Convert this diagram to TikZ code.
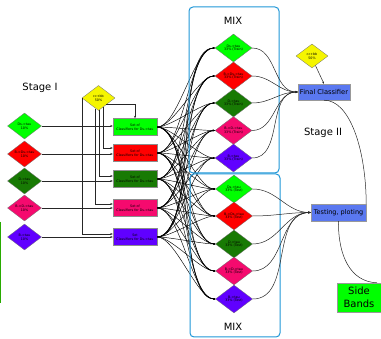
\documentclass[tikz,border=0pt]{standalone}
\usepackage{fontspec}
\setmainfont{DejaVu Sans}
\usetikzlibrary{shapes.geometric,arrows.meta}
\definecolor{cLG}{RGB}{0,255,0}
\definecolor{cRD}{RGB}{255,0,0}
\definecolor{cDG}{RGB}{24,122,4}
\definecolor{cPK}{RGB}{245,10,110}
\definecolor{cPU}{RGB}{96,0,255}
\definecolor{cYE}{RGB}{245,245,0}
\definecolor{cBL}{RGB}{90,120,240}
\definecolor{cMX}{RGB}{30,150,215}
\definecolor{cSide}{RGB}{40,170,0}
\newcommand\tinyf{\fontsize{3.3}{3.8}\selectfont}
\begin{document}
\begin{tikzpicture}[x=1pt,y=-1pt,
  dia/.style={diamond, draw=black!55, line width=0.3pt, inner sep=0pt, aspect=1.3, font=\tinyf, align=center},
  ldia/.style={dia, minimum width=34pt, minimum height=26pt},
  mdia/.style={dia, minimum width=37pt, minimum height=28pt},
  lbox/.style={rectangle, draw=black!45, line width=0.4pt, minimum width=44pt, minimum height=17pt, inner sep=0pt, align=center, font=\tinyf},
  bbox/.style={rectangle, draw=black!40, line width=0.4pt, fill=cBL, inner sep=0.5pt},
  mixbox/.style={draw=cMX, line width=1pt, rounded corners=4pt},
  arr/.style={-{Stealth[length=2.5pt,width=2pt]}, line width=0.5pt, black!85},
  fan/.style={-{Stealth[length=2pt,width=1.6pt]}, line width=0.45pt, black},
  conn/.style={line width=0.5pt, black!85},
  big/.style={font=\fontsize{10}{12.5}\selectfont, align=center}
]
\useasboundingbox (0,0) rectangle (381,339);

% stage labels
\node[big] (st1) at (40,88) {Stage I};
\node[big] (st2) at (323,133) {Stage II};

% left diamonds
\node[ldia, fill=cLG] (L1) at (24.5,126) {Ds->tau\\10\%};
\node[ldia, fill=cRD] (L2) at (24.5,154) {B->Ds->tau\\10\%};
\node[ldia, fill=cDG] (L3) at (24.5,181) {D->tau\\10\%};
\node[ldia, fill=cPK] (L4) at (24.5,208) {B->D->tau\\10\%};
\node[ldia, fill=cPU] (L5) at (24.5,237) {B->tau\\10\%};

% yellow
\node[dia, fill=cYE, minimum width=33pt, minimum height=25pt] (Y) at (98.5,98) {cc+bb\\50\%};

% classifier boxes
\node[lbox, fill=cLG] (C1) at (135,127) {Set of\\Classifiers for Ds->tau};
\node[lbox, fill=cRD] (C2) at (135,153) {Set of\\Classifiers for Ds->tau};
\node[lbox, fill=cDG] (C3) at (135,179) {Set of\\Classifiers for Ds->tau};
\node[lbox, fill=cPK] (C4) at (135,208) {Set of\\Classifiers for Ds->tau};
\node[lbox, fill=cPU] (C5) at (135,237) {Set\\Classifiers for Ds->tau};

% left diamonds -> boxes
\foreach \i in {1,...,5} {
  \draw[arr] (L\i.east) -- (L\i.east -| C\i.west);
}
% yellow -> boxes
\draw[arr] (Y.-40) -| (C1.north);
\draw[arr] (Y.-60) |- ([yshift=5pt]C2.west);
\draw[arr] (Y.-85) |- ([yshift=3pt]C3.west);
\draw[arr] (Y.-105) |- ([yshift=4pt]C4.west);
\draw[arr] (Y.west) |- ([yshift=3pt]C5.west);

% MIX train diamonds
\node[mdia, fill=cLG] (T1) at (233.5,48) {Ds->tau\\33\% (Train)};
\node[mdia, fill=cRD] (T2) at (233.5,76) {B->Ds->tau\\33\% (Train)};
\node[mdia, fill=cDG] (T3) at (233.5,103) {D->tau\\33\% (Train)};
\node[mdia, fill=cPK] (T4) at (233.5,130.5) {B->D->tau\\33\% (Train)};
\node[mdia, fill=cPU] (T5) at (233.5,158) {B->tau\\33\% (Train)};
% MIX test diamonds
\node[mdia, fill=cLG] (S1) at (234,189) {Ds->tau\\33\% (Test)};
\node[mdia, fill=cRD] (S2) at (234,216) {B->Ds->tau\\33\% (Test)};
\node[mdia, fill=cDG] (S3) at (234,244) {D->tau\\33\% (Test)};
\node[mdia, fill=cPK] (S4) at (234,271) {B->D->tau\\33\% (Test)};
\node[mdia, fill=cPU] (S5) at (234,299) {B->tau\\33\% (Test)};

% fan from boxes to all MIX diamonds
\foreach \i in {1,...,5} {
  \foreach \j in {1,...,5} {
    \draw[fan] (C\i.east) to[out=0,in=180,looseness=0.55] (T\j.west);
    \draw[fan] (C\i.east) to[out=0,in=180,looseness=0.55] (S\j.west);
  }
}

% MIX boxes (on top of the fan)
\draw[mixbox] (189,7) rectangle (279,173);
\draw[mixbox] (190,174) rectangle (280,337);
\node[big] (mixt) at (233,21) {MIX};
\node[big] (mixb) at (233,327) {MIX};

% stage II
\node[dia, fill=cYE, minimum width=32pt, minimum height=24pt] (Yb) at (312,56) {cc+bb\\50\%};
\node[bbox, minimum width=52pt, minimum height=16pt, font=\fontsize{6.7}{8}\selectfont] (F) at (324,92) {Final Classifier};
\node[bbox, minimum width=55pt, minimum height=17pt, font=\fontsize{6.5}{8}\selectfont] (P) at (338.5,212.5) {Testing, ploting};
\node[rectangle, draw=black!40, line width=0.4pt, fill=cLG, minimum width=44pt, minimum height=29pt, inner sep=0pt, big, font=\fontsize{10}{12.5}\selectfont] (B) at (359,297.5) {Side\\Bands};

\draw[arr] (Yb.-70) -- (F.north);
\foreach \j in {1,...,5} {
  \draw[arr] (T\j.east) to[out=0,in=180] (F.west);
  \draw[arr] (S\j.east) to[out=0,in=180] (P.west);
}
\draw[conn] (F.south) .. controls (350,100) and (366,150) .. (P.north east);
\draw[conn] (P.south) .. controls (338,255) and (350,282) .. ([xshift=-4pt]B.north east);

% green edge line at left
\draw[line width=1.2pt, cSide] (0.6,222) -- (0.6,303);
\end{tikzpicture}
\end{document}
